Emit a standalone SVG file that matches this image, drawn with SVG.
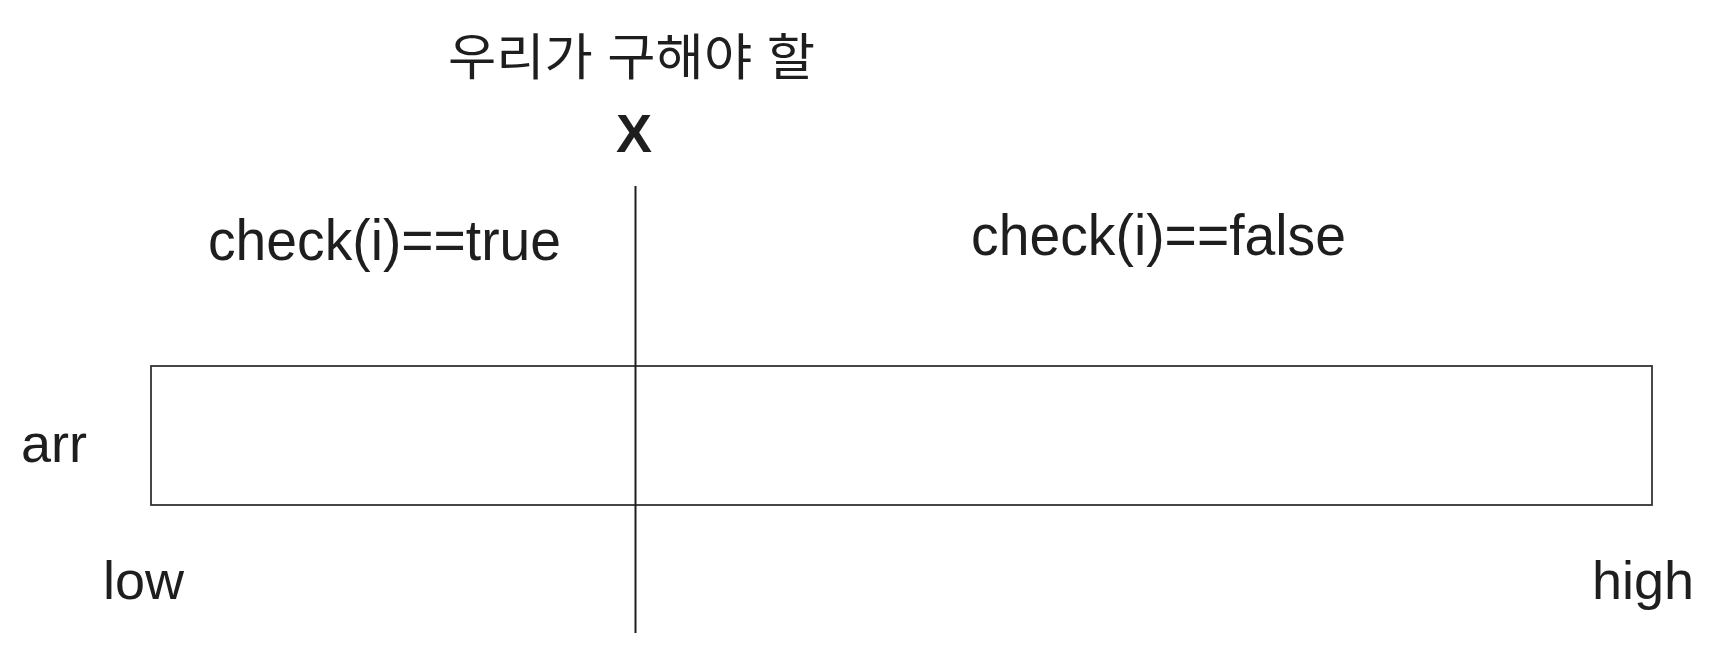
<svg xmlns="http://www.w3.org/2000/svg" width="1715" height="652" viewBox="0 0 1715 652">
<style>
.t{font-family:"Liberation Sans",Arial,sans-serif;font-size:54px;fill:#1e1e1e}
.c{font-family:"Liberation Sans",Arial,sans-serif;font-size:57px;fill:#1e1e1e}
.k{font-family:"Liberation Sans","Noto Sans CJK KR",sans-serif;font-size:50px;fill:#1e1e1e}
.b{font-family:"Liberation Sans",Arial,sans-serif;font-size:54px;font-weight:bold;fill:#1e1e1e}
.box{fill:#fff;stroke:#333;stroke-width:1.8}
.ln{stroke:#1e1e1e;stroke-width:2;fill:none}
</style>
<rect width="1715" height="652" fill="#fff"/>
<g id="arr-box"><rect class="box" x="151" y="366" width="1501" height="139"/></g>
<g id="connectors"><line class="ln" x1="635.5" y1="186" x2="635.5" y2="633"/></g>
<g id="title"><text class="k" x="448" y="75" textLength="367" lengthAdjust="spacingAndGlyphs">우리가 구해야 할</text></g>
<g id="x-label"><text class="b" x="634" y="152" text-anchor="middle">X</text></g>
<g id="true-label"><text class="c" x="208" y="260" textLength="353" lengthAdjust="spacingAndGlyphs">check(i)==true</text></g>
<g id="false-label"><text class="c" x="971" y="255" textLength="375" lengthAdjust="spacingAndGlyphs">check(i)==false</text></g>
<g id="arr-label"><text class="t" x="21" y="462">arr</text></g>
<g id="low-label"><text class="t" x="103" y="599">low</text></g>
<g id="high-label"><text class="t" x="1592" y="599">high</text></g>
</svg>
